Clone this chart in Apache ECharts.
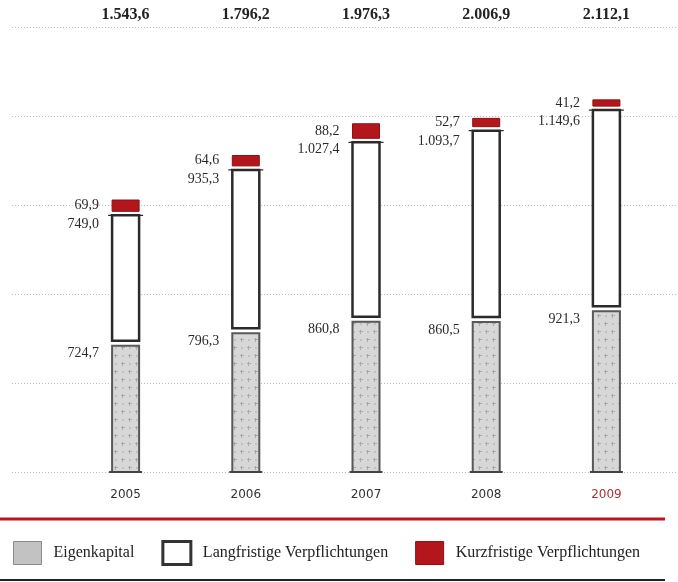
<!DOCTYPE html>
<html><head><meta charset="utf-8">
<script src="https://cdn.jsdelivr.net/npm/echarts@6/dist/echarts.min.js"></script>
<style>html,body{margin:0;padding:0;background:#fff}#c{width:678px;height:582px}</style>
</head><body><div id="c"></div>
<script>
const years = ['2005', '2006', '2007', '2008', '2009'];
const eigenkapital = [724.7, 796.3, 860.8, 860.5, 921.3];
const langfristig = [749.0, 935.3, 1027.4, 1093.7, 1149.6];
const kurzfristig = [69.9, 64.6, 88.2, 52.7, 41.2];
const totals = [1543.6, 1796.2, 1976.3, 2006.9, 2112.1];
const yMin = 0, yMax = 2500, yInterval = 500;
const seriesNames = ['Eigenkapital', 'Langfristige Verpflichtungen', 'Kurzfristige Verpflichtungen'];

function fmt(v) {
  const s = v.toFixed(1).split('.');
  return s[0].replace(/\B(?=(\d{3})+(?!\d))/g, '.') + ',' + s[1];
}

// grey dotted pattern
const pc = document.createElement('canvas'); pc.width = 14; pc.height = 16;
const g = pc.getContext('2d');
g.fillStyle = '#d7d7d7'; g.fillRect(0, 0, 14, 16);
g.fillStyle = '#a8a8a8';
g.fillRect(2, 3, 4, 1); g.fillRect(3, 2, 1, 4);
g.fillRect(9, 11, 4, 1); g.fillRect(10, 10, 1, 4);
g.fillStyle = '#c0c0c0'; g.fillRect(10, 3, 2, 2); g.fillRect(3, 11, 2, 2);
const greyPattern = { image: pc, repeat: 'repeat' };

const lows = [[], [], []], highs = [[], [], []], vals = [eigenkapital, langfristig, kurzfristig];
years.forEach((y, i) => {
  let acc = 0;
  for (let k = 0; k < 3; k++) { lows[k][i] = acc; acc += vals[k][i]; highs[k][i] = acc; }
});

const BW = 27;
const LABEL_FONT = { fontFamily: 'Liberation Serif', fontSize: 14, fill: '#2a2a2a', align: 'right', verticalAlign: 'middle' };
function makeRender(kind) {
  return function (params, api) {
    const idx = api.value(0), lo = api.value(1), hi = api.value(2), val = api.value(3);
    const pLo = api.coord([idx, lo]), pHi = api.coord([idx, hi]);
    const x = pLo[0] - BW / 2;
    const children = [];
    let top, bot, labelY;
    if (kind === 0) {
      top = pHi[1] + 1.5; bot = pLo[1]; labelY = top + 8;
      children.push({ type: 'rect', shape: { x: x, y: top, width: BW, height: bot - top },
        style: { fill: greyPattern, stroke: '#585858', lineWidth: 2 } });
      children.push({ type: 'line', shape: { x1: x - 3, y1: bot, x2: x + BW + 3, y2: bot },
        style: { stroke: '#444', lineWidth: 2 } });
    } else if (kind === 1) {
      top = pHi[1] + 3; bot = pLo[1] - 3.5;
      const redTop = api.coord([idx, hi + kurzfristig[idx]])[1];
      labelY = (redTop + pHi[1]) / 2 + 18;
      children.push({ type: 'rect', shape: { x: x, y: top, width: BW, height: bot - top },
        style: { fill: '#fff', stroke: '#2b2b2b', lineWidth: 2.5 } });
      children.push({ type: 'line', shape: { x1: x - 4, y1: top, x2: x + BW + 4, y2: top },
        style: { stroke: '#2b2b2b', lineWidth: 1.2 } });
    } else {
      top = pHi[1]; bot = pLo[1] - 1; labelY = (top + bot) / 2;
      children.push({ type: 'rect', shape: { x: x, y: top, width: BW, height: bot - top },
        style: { fill: '#b3171c', stroke: '#8e1014', lineWidth: 1 } });
    }
    children.push({ type: 'text', style: Object.assign({ x: x - 13, y: labelY, text: fmt(val) }, LABEL_FONT) });
    return { type: 'group', children: children };
  };
}

const chart = echarts.init(document.getElementById('c'), null, { renderer: 'canvas' });
const colors = [greyPattern, '#ffffff', '#b3171c'];
chart.setOption({
  animation: false,
  grid: [
    { left: 12, right: 0, top: 27, bottom: 110 },
    { left: 65.5, right: 11.5, top: 31.5, bottom: 110 }
  ],
  xAxis: [
    { gridIndex: 0, type: 'category', data: years, show: false },
    { gridIndex: 1, type: 'category', data: years.map((y, i) => i === years.length - 1 ? { value: y, textStyle: { color: '#b0303a' } } : y),
      axisLine: { show: false }, axisTick: { show: false },
      axisLabel: { margin: 17, fontFamily: 'DejaVu Sans', fontSize: 12, color: '#333' } },
    { gridIndex: 1, type: 'category', position: 'top', data: totals.map(fmt),
      axisLine: { show: false }, axisTick: { show: false },
      axisLabel: { margin: 8.5, fontFamily: 'Liberation Serif', fontWeight: 'bold', fontSize: 16, color: '#222' } }
  ],
  yAxis: [
    { gridIndex: 0, type: 'value', min: yMin, max: yMax, interval: yInterval,
      axisLine: { show: false }, axisTick: { show: false }, axisLabel: { show: false },
      splitLine: { show: true, lineStyle: { type: [1, 2], color: '#bcbcbc', width: 1 } } },
    { gridIndex: 1, type: 'value', min: yMin, max: yMax, interval: yInterval, show: false, splitLine: { show: false } }
  ],
  legend: {
    left: 13, top: 540, padding: 0, icon: 'rect', itemWidth: 28, itemHeight: 23, itemGap: 27,
    textStyle: { fontFamily: 'Liberation Serif', fontSize: 16, color: '#222', padding: [0, 0, 0, 7] },
    data: [
      { name: seriesNames[0], itemStyle: { color: '#c2c2c2', borderColor: '#8a8a8a', borderWidth: 1 } },
      { name: seriesNames[1], itemStyle: { color: '#ffffff', borderColor: '#333', borderWidth: 3 } },
      { name: seriesNames[2], itemStyle: { color: '#b3171c', borderColor: '#8e1014', borderWidth: 1 } }
    ]
  },
  graphic: [
    { type: 'rect', shape: { x: 0, y: 517.5, width: 665, height: 3 }, style: { fill: '#c0131f' } },
    { type: 'rect', shape: { x: 0, y: 579, width: 665, height: 2 }, style: { fill: '#222' } }
  ],
  series: [0, 1, 2].map(k => ({
    type: 'custom', name: seriesNames[k], xAxisIndex: 1, yAxisIndex: 1,
    itemStyle: { color: k === 0 ? '#c2c2c2' : colors[k] },
    renderItem: makeRender(k),
    encode: { x: 0, y: [1, 2] },
    data: years.map((y, i) => [i, lows[k][i], highs[k][i], vals[k][i]])
  }))
});
</script></body></html>
